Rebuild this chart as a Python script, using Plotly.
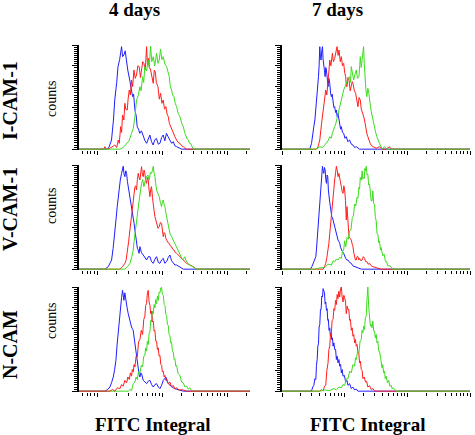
import plotly.graph_objects as go

# ---- data: (log10 FITC intensity, counts) ----
ICAM4_BLUE = [(0.14,0),(0.18,4),(0.22,22),(0.25,70),(0.27,118),(0.30,160),(0.32,198),(0.345,215),(0.36,238),(0.375,246),(0.39,222),(0.41,226),(0.43,236),(0.45,210),(0.47,190),(0.50,166),(0.52,150),(0.545,126),(0.56,132),(0.58,94),(0.60,80),(0.615,54),(0.635,48),(0.655,38),(0.68,44),(0.71,30),(0.735,20),(0.76,14),(0.785,26),(0.81,34),(0.835,18),(0.86,10),(0.885,22),(0.91,26),(0.94,12),(0.965,14),(0.99,28),(1.015,34),(1.04,20),(1.065,38),(1.09,30),(1.12,22),(1.145,14),(1.17,18),(1.195,8),(1.22,6),(1.26,3),(1.30,0)]
ICAM4_RED = [(0.10,0),(0.118,6),(0.14,0),(0.195,2),(0.24,6),(0.272,10),(0.30,4),(0.324,22),(0.34,14),(0.36,54),(0.375,40),(0.39,82),(0.41,70),(0.425,110),(0.44,96),(0.462,94),(0.475,120),(0.493,142),(0.51,130),(0.528,166),(0.545,150),(0.564,190),(0.585,170),(0.605,178),(0.625,200),(0.646,198),(0.665,172),(0.682,186),(0.70,210),(0.718,206),(0.74,190),(0.759,246),(0.775,200),(0.79,218),(0.805,196),(0.821,190),(0.84,170),(0.862,158),(0.878,190),(0.893,186),(0.91,160),(0.934,150),(0.955,120),(0.975,134),(0.995,110),(1.016,118),(1.035,96),(1.057,102),(1.075,84),(1.093,78),(1.11,62),(1.129,54),(1.15,44),(1.17,38),(1.195,30),(1.221,22),(1.245,16),(1.272,14),(1.30,8),(1.324,6),(1.365,0)]
ICAM4_GREEN = [(0.349,0),(0.40,4),(0.452,14),(0.49,20),(0.528,38),(0.555,50),(0.58,78),(0.595,96),(0.605,118),(0.63,128),(0.657,150),(0.675,140),(0.698,174),(0.715,160),(0.733,198),(0.76,188),(0.785,214),(0.80,196),(0.821,247),(0.84,210),(0.862,222),(0.885,200),(0.913,230),(0.935,206),(0.954,214),(0.974,240),(0.995,215),(1.016,222),(1.04,205),(1.067,198),(1.09,180),(1.108,174),(1.125,150),(1.144,142),(1.16,130),(1.18,126),(1.20,110),(1.221,102),(1.245,86),(1.272,78),(1.30,62),(1.324,54),(1.345,40),(1.365,30),(1.385,24),(1.401,22),(1.42,14),(1.436,14),(1.455,6),(1.477,0)]

ICAM7_BLUE = [(0.444,0),(0.471,14),(0.49,30),(0.508,54),(0.525,70),(0.54,94),(0.55,110),(0.561,126),(0.572,150),(0.582,174),(0.592,200),(0.603,246),(0.614,220),(0.624,214),(0.635,236),(0.646,246),(0.656,215),(0.667,206),(0.678,188),(0.688,174),(0.699,196),(0.709,190),(0.722,165),(0.735,150),(0.748,170),(0.762,158),(0.775,135),(0.788,126),(0.80,132),(0.815,118),(0.828,100),(0.841,102),(0.855,88),(0.868,94),(0.88,78),(0.894,86),(0.908,70),(0.921,62),(0.935,48),(0.947,54),(0.965,40),(0.984,38),(1.005,26),(1.026,30),(1.05,18),(1.079,22),(1.105,12),(1.132,10),(1.16,4),(1.185,6),(1.238,0)]
ICAM7_RED = [(0.55,0),(0.575,6),(0.603,22),(0.63,60),(0.656,94),(0.675,110),(0.698,142),(0.715,130),(0.735,158),(0.75,190),(0.762,214),(0.78,200),(0.804,230),(0.82,210),(0.841,218),(0.86,236),(0.878,246),(0.895,225),(0.91,238),(0.93,210),(0.947,222),(0.965,200),(0.984,206),(1.0,185),(1.016,174),(1.027,150),(1.037,150),(1.052,172),(1.069,166),(1.088,140),(1.106,150),(1.12,162),(1.132,158),(1.155,140),(1.175,134),(1.195,112),(1.212,102),(1.23,124),(1.249,118),(1.265,96),(1.28,86),(1.30,80),(1.317,70),(1.33,56),(1.344,46),(1.357,36),(1.37,30),(1.39,18),(1.407,14),(1.43,8),(1.45,6),(1.503,2),(1.556,6),(1.60,0),(1.661,0),(1.714,6),(1.741,0)]
ICAM7_GREEN = [(0.524,0),(0.56,2),(0.603,6),(0.65,4),(0.709,14),(0.735,20),(0.762,30),(0.785,26),(0.804,38),(0.822,44),(0.841,54),(0.86,62),(0.878,74),(0.895,86),(0.91,94),(0.93,106),(0.947,118),(0.965,130),(0.984,142),(1.005,150),(1.026,158),(1.05,168),(1.079,174),(1.093,160),(1.106,198),(1.125,180),(1.143,166),(1.165,180),(1.185,190),(1.205,170),(1.228,174),(1.24,200),(1.249,222),(1.265,196),(1.28,214),(1.29,226),(1.302,246),(1.313,205),(1.323,174),(1.34,140),(1.354,126),(1.37,146),(1.386,134),(1.40,110),(1.413,102),(1.425,90),(1.439,78),(1.458,66),(1.476,54),(1.495,40),(1.513,30),(1.535,20),(1.556,14),(1.598,0),(1.635,6),(1.672,0)]

VCAM4_BLUE = [(0.118,0),(0.17,6),(0.221,22),(0.245,50),(0.272,86),(0.29,120),(0.308,150),(0.325,175),(0.339,198),(0.355,214),(0.375,230),(0.39,240),(0.40,247),(0.413,228),(0.426,222),(0.44,236),(0.452,230),(0.465,210),(0.477,198),(0.49,186),(0.503,174),(0.515,168),(0.528,158),(0.54,140),(0.554,126),(0.567,110),(0.58,94),(0.593,78),(0.605,62),(0.618,50),(0.631,46),(0.644,38),(0.657,54),(0.68,40),(0.708,34),(0.735,28),(0.759,22),(0.785,30),(0.811,30),(0.836,18),(0.862,14),(0.888,24),(0.913,30),(0.94,16),(0.965,14),(0.99,22),(1.016,26),(1.04,14),(1.067,18),(1.093,28),(1.118,34),(1.145,20),(1.17,14),(1.195,10),(1.221,10),(1.272,6),(1.324,0)]
VCAM4_RED = [(0.349,0),(0.39,6),(0.426,14),(0.445,22),(0.462,38),(0.483,66),(0.503,94),(0.515,112),(0.528,126),(0.54,150),(0.554,166),(0.567,185),(0.58,198),(0.593,200),(0.605,190),(0.618,215),(0.631,230),(0.644,220),(0.657,214),(0.67,232),(0.682,246),(0.695,226),(0.708,222),(0.72,238),(0.733,230),(0.746,212),(0.759,206),(0.772,220),(0.785,214),(0.798,190),(0.811,174),(0.823,192),(0.836,198),(0.85,172),(0.862,150),(0.875,140),(0.888,126),(0.90,118),(0.913,110),(0.935,98),(0.954,102),(0.972,112),(0.99,110),(1.003,90),(1.016,78),(1.03,88),(1.042,86),(1.055,74),(1.067,70),(1.088,64),(1.108,62),(1.125,56),(1.144,54),(1.16,48),(1.18,46),(1.20,40),(1.221,38),(1.245,34),(1.272,30),(1.30,24),(1.324,22),(1.35,16),(1.375,14),(1.40,12),(1.426,10),(1.477,6),(1.529,0)]
VCAM4_GREEN = [(0.426,0),(0.465,6),(0.503,14),(0.53,28),(0.554,46),(0.567,66),(0.58,86),(0.593,100),(0.605,118),(0.625,140),(0.646,166),(0.665,190),(0.682,206),(0.70,215),(0.718,198),(0.738,212),(0.759,222),(0.78,226),(0.80,214),(0.818,232),(0.836,230),(0.85,238),(0.862,247),(0.875,230),(0.888,222),(0.90,205),(0.913,190),(0.933,182),(0.954,174),(0.972,160),(0.99,150),(1.003,162),(1.016,166),(1.03,155),(1.042,150),(1.055,136),(1.067,126),(1.08,118),(1.093,110),(1.105,96),(1.118,86),(1.145,78),(1.17,70),(1.195,62),(1.221,54),(1.245,46),(1.272,38),(1.292,30),(1.313,22),(1.33,26),(1.349,30),(1.362,22),(1.375,18),(1.40,12),(1.426,10),(1.477,6),(1.529,0)]

VCAM7_BLUE = [(0.455,0),(0.476,6),(0.497,14),(0.518,20),(0.54,30),(0.55,48),(0.561,70),(0.572,90),(0.582,110),(0.592,140),(0.603,166),(0.614,192),(0.624,214),(0.635,232),(0.646,247),(0.656,236),(0.667,230),(0.678,244),(0.688,238),(0.699,215),(0.709,206),(0.72,226),(0.73,222),(0.74,190),(0.751,166),(0.762,160),(0.772,150),(0.783,136),(0.794,126),(0.805,124),(0.815,118),(0.828,108),(0.841,102),(0.855,92),(0.868,86),(0.88,74),(0.894,70),(0.908,66),(0.921,62),(0.935,52),(0.947,46),(0.965,42),(0.984,38),(1.0,30),(1.016,26),(1.035,22),(1.053,22),(1.08,16),(1.106,14),(1.13,8),(1.159,6),(1.212,3),(1.265,0)]
VCAM7_RED = [(0.656,0),(0.678,6),(0.698,14),(0.716,28),(0.735,46),(0.748,62),(0.762,86),(0.775,110),(0.788,134),(0.80,155),(0.815,174),(0.828,196),(0.841,214),(0.855,232),(0.868,247),(0.88,238),(0.894,222),(0.907,230),(0.921,214),(0.934,208),(0.947,198),(0.96,186),(0.974,182),(0.987,200),(1.0,190),(1.013,165),(1.026,118),(1.037,150),(1.05,110),(1.069,78),(1.088,74),(1.106,70),(1.12,60),(1.132,54),(1.145,40),(1.159,30),(1.172,22),(1.185,22),(1.198,30),(1.212,30),(1.225,22),(1.238,26),(1.26,20),(1.28,22),(1.298,30),(1.317,26),(1.335,18),(1.354,18),(1.375,12),(1.397,14),(1.423,8),(1.45,6),(1.503,3),(1.582,0)]
VCAM7_GREEN = [(0.524,0),(0.603,3),(0.683,4),(0.735,12),(0.788,10),(0.815,20),(0.841,18),(0.868,24),(0.894,22),(0.92,28),(0.947,26),(0.965,42),(0.984,46),(1.0,68),(1.018,54),(1.037,76),(1.058,72),(1.079,92),(1.1,94),(1.122,124),(1.14,128),(1.159,156),(1.178,152),(1.196,172),(1.212,170),(1.228,196),(1.238,192),(1.249,220),(1.265,214),(1.28,236),(1.29,216),(1.302,220),(1.313,218),(1.323,242),(1.334,236),(1.344,247),(1.357,226),(1.37,228),(1.383,202),(1.397,204),(1.41,170),(1.423,164),(1.437,164),(1.45,188),(1.463,158),(1.476,156),(1.49,124),(1.503,116),(1.516,86),(1.529,84),(1.543,64),(1.556,68),(1.57,46),(1.582,52),(1.608,32),(1.63,36),(1.651,18),(1.67,18),(1.688,8),(1.725,8),(1.767,0)]

NCAM4_BLUE = [(0.118,0),(0.16,4),(0.195,10),(0.22,20),(0.247,34),(0.268,52),(0.288,74),(0.305,110),(0.324,146),(0.342,176),(0.36,202),(0.375,225),(0.39,242),(0.40,230),(0.411,218),(0.425,236),(0.442,210),(0.46,200),(0.477,186),(0.49,176),(0.503,170),(0.515,162),(0.528,154),(0.54,150),(0.554,146),(0.567,130),(0.58,114),(0.593,94),(0.605,74),(0.618,60),(0.631,50),(0.644,40),(0.657,34),(0.67,44),(0.682,42),(0.695,30),(0.708,26),(0.735,22),(0.759,18),(0.785,24),(0.811,26),(0.836,16),(0.862,10),(0.888,16),(0.913,18),(0.94,10),(0.965,6),(0.99,14),(1.016,26),(1.037,30),(1.057,34),(1.075,24),(1.093,18),(1.12,14),(1.144,10),(1.17,8),(1.195,6),(1.235,4),(1.272,2),(1.324,0)]
NCAM4_RED = [(0.195,0),(0.235,4),(0.272,0),(0.31,8),(0.349,6),(0.375,16),(0.40,12),(0.425,26),(0.452,20),(0.472,34),(0.493,28),(0.51,44),(0.528,36),(0.54,52),(0.554,46),(0.567,64),(0.58,58),(0.598,84),(0.616,82),(0.636,118),(0.657,124),(0.678,146),(0.698,136),(0.716,172),(0.733,180),(0.746,206),(0.759,210),(0.772,236),(0.785,242),(0.798,214),(0.811,206),(0.823,186),(0.836,192),(0.85,166),(0.862,168),(0.875,144),(0.888,146),(0.90,120),(0.913,120),(0.926,100),(0.939,104),(0.952,84),(0.965,86),(0.978,64),(0.99,62),(1.003,46),(1.016,48),(1.03,34),(1.042,38),(1.055,26),(1.067,30),(1.093,18),(1.118,22),(1.144,10),(1.17,14),(1.195,5),(1.221,8),(1.26,2),(1.298,4),(1.375,0)]
NCAM4_GREEN = [(0.477,0),(0.503,4),(0.528,2),(0.555,18),(0.58,22),(0.598,34),(0.616,28),(0.636,46),(0.657,44),(0.678,62),(0.698,58),(0.716,84),(0.733,86),(0.746,104),(0.759,96),(0.772,120),(0.785,112),(0.798,138),(0.811,142),(0.823,170),(0.836,166),(0.85,192),(0.862,186),(0.875,208),(0.888,200),(0.90,220),(0.913,210),(0.926,228),(0.939,218),(0.952,238),(0.965,236),(0.978,248),(0.99,249),(1.003,232),(1.016,230),(1.03,208),(1.042,206),(1.055,184),(1.067,182),(1.08,160),(1.093,158),(1.105,136),(1.118,134),(1.13,116),(1.144,118),(1.157,96),(1.17,94),(1.183,76),(1.195,78),(1.208,60),(1.221,62),(1.245,42),(1.272,38),(1.298,22),(1.324,20),(1.35,10),(1.375,12),(1.40,5),(1.426,8),(1.45,2),(1.477,0)]

NCAM7_BLUE = [(0.471,0),(0.49,10),(0.508,14),(0.524,30),(0.54,28),(0.55,62),(0.561,76),(0.572,108),(0.582,114),(0.592,154),(0.603,160),(0.614,196),(0.624,196),(0.635,228),(0.646,226),(0.656,246),(0.667,238),(0.678,236),(0.688,210),(0.699,214),(0.709,194),(0.72,198),(0.73,170),(0.74,172),(0.751,146),(0.762,152),(0.772,132),(0.783,140),(0.794,124),(0.805,128),(0.815,108),(0.828,116),(0.841,100),(0.855,100),(0.868,76),(0.88,84),(0.894,68),(0.908,76),(0.921,60),(0.935,64),(0.947,44),(0.96,52),(0.974,36),(0.995,38),(1.016,22),(1.035,26),(1.053,14),(1.08,18),(1.106,6),(1.13,10),(1.159,3),(1.185,5),(1.212,0)]
NCAM7_RED = [(0.603,0),(0.63,4),(0.656,0),(0.678,12),(0.698,14),(0.716,50),(0.735,68),(0.748,100),(0.762,108),(0.775,138),(0.788,140),(0.80,170),(0.815,172),(0.828,198),(0.841,194),(0.855,218),(0.868,208),(0.88,232),(0.894,222),(0.907,240),(0.921,226),(0.934,246),(0.947,250),(0.96,226),(0.974,214),(0.987,230),(1.0,220),(1.013,216),(1.026,186),(1.04,204),(1.053,196),(1.066,196),(1.079,170),(1.092,172),(1.106,146),(1.12,152),(1.132,132),(1.145,136),(1.159,116),(1.172,124),(1.185,108),(1.198,112),(1.212,92),(1.225,92),(1.238,68),(1.251,72),(1.265,52),(1.278,50),(1.291,30),(1.312,34),(1.333,22),(1.35,24),(1.37,10),(1.397,13),(1.423,4),(1.45,6),(1.476,1),(1.529,0)]
NCAM7_GREEN = [(0.603,0),(0.68,3),(0.762,1),(0.815,6),(0.868,4),(0.907,10),(0.947,8),(0.974,16),(1.0,14),(1.026,30),(1.053,30),(1.08,48),(1.106,44),(1.132,64),(1.159,60),(1.172,80),(1.185,76),(1.207,96),(1.228,92),(1.246,120),(1.265,124),(1.278,146),(1.291,140),(1.304,156),(1.317,148),(1.33,176),(1.344,180),(1.357,222),(1.37,250),(1.383,204),(1.397,176),(1.41,156),(1.423,160),(1.437,152),(1.45,168),(1.463,144),(1.476,144),(1.49,128),(1.503,136),(1.516,116),(1.529,120),(1.543,96),(1.556,96),(1.57,72),(1.582,72),(1.595,56),(1.608,64),(1.622,44),(1.635,48),(1.648,30),(1.661,36),(1.683,20),(1.704,26),(1.72,12),(1.741,14),(1.76,5),(1.778,8),(1.82,0)]

COL_TITLES = ["4 days", "7 days"]
ROW_TITLES = ["I-CAM-1", "V-CAM-1", "N-CAM"]
Y_TITLE = "counts"
X_TITLE = "FITC Integral"

# ---- layout constants ----
W, H = 475, 435
BLUE, RED, GREEN = "#1e1eff", "#ff1e1e", "#3cdc1e"
LOG_RANGE = [[-0.28, 2.35], [0.0, 3.0]]          # per column
COUNT_RANGE = [-2, 250]
COL_PX = [(79, 250), (282, 470)]
ROW_PX = [(45, 150), (165, 270), (287, 392)]
SERIF = "Liberation Serif, Times New Roman, serif"

PANELS = [
    [[(ICAM4_BLUE, BLUE), (ICAM4_RED, RED), (ICAM4_GREEN, GREEN)],
     [(ICAM7_BLUE, BLUE), (ICAM7_RED, RED), (ICAM7_GREEN, GREEN)]],
    [[(VCAM4_BLUE, BLUE), (VCAM4_RED, RED), (VCAM4_GREEN, GREEN)],
     [(VCAM7_BLUE, BLUE), (VCAM7_RED, RED), (VCAM7_GREEN, GREEN)]],
    [[(NCAM4_BLUE, BLUE), (NCAM4_GREEN, GREEN), (NCAM4_RED, RED)],
     [(NCAM7_BLUE, BLUE), (NCAM7_RED, RED), (NCAM7_GREEN, GREEN)]],
]

fig = go.Figure()
layout = dict(width=W, height=H, margin=dict(l=0, r=0, t=0, b=0),
              paper_bgcolor="white", plot_bgcolor="white", showlegend=False)

major_x = [10.0 ** d for d in range(-1, 4)]
minor_x = [m * 10.0 ** d for d in range(-1, 4) for m in range(2, 10)]

k = 0
for r, row in enumerate(PANELS):
    for c, curves in enumerate(row):
        k += 1
        xa = "x" if k == 1 else f"x{k}"
        ya = "y" if k == 1 else f"y{k}"
        lo, hi = LOG_RANGE[c]
        for pts, col in curves:
            xs = [10 ** lo] + [10 ** p[0] for p in pts] + [10 ** hi]
            ys = [0] + [p[1] for p in pts] + [0]
            fig.add_trace(go.Scatter(x=xs, y=ys, mode="lines",
                                     line=dict(color=col, width=1),
                                     xaxis=xa, yaxis=ya, hoverinfo="skip"))
        x0, x1 = COL_PX[c]
        t0, t1 = ROW_PX[r]
        layout[f"xaxis{'' if k == 1 else k}"] = dict(
            type="log", range=[lo, hi], domain=[x0 / W, x1 / W], anchor=ya,
            showline=False, showgrid=False, zeroline=False,
            showticklabels=False, ticks="outside", ticklen=4, tickwidth=1,
            tickcolor="black", tickmode="array", tickvals=major_x,
            minor=dict(tickmode="array", tickvals=minor_x, ticks="outside",
                       ticklen=3, tickwidth=1, tickcolor="black", showgrid=False))
        layout[f"yaxis{'' if k == 1 else k}"] = dict(
            range=COUNT_RANGE, domain=[1 - t1 / H, 1 - t0 / H], anchor=xa,
            showline=True, linewidth=2, linecolor="black",
            showgrid=False, zeroline=False, showticklabels=False,
            ticks="outside", ticklen=5, tickwidth=1, tickcolor="black",
            tick0=0, dtick=50,
            minor=dict(ticks="outside", ticklen=3, tickwidth=1,
                       tickcolor="black", dtick=5, showgrid=False))

ann = []
for c, (t, xc) in enumerate(zip(COL_TITLES, [134, 337])):
    ann.append(dict(text=f"<b>{t}</b>", x=xc / W, y=1 - 10 / H, xref="paper", yref="paper",
                    showarrow=False, font=dict(family=SERIF, size=19, color="black"),
                    xanchor="center", yanchor="middle"))
for xc in [153, 368]:
    ann.append(dict(text=f"<b>{X_TITLE}</b>", x=xc / W, y=1 - 424 / H, xref="paper", yref="paper",
                    showarrow=False, font=dict(family=SERIF, size=19, color="black"),
                    xanchor="center", yanchor="middle"))
for t, yc in zip(ROW_TITLES, [101, 209, 345]):
    ann.append(dict(text=f"<b>{t}</b>", x=10 / W, y=1 - yc / H, xref="paper", yref="paper",
                    showarrow=False, textangle=-90, font=dict(family=SERIF, size=20, color="black"),
                    xanchor="center", yanchor="middle"))
for yc in [99, 206, 321]:
    ann.append(dict(text=Y_TITLE, x=51 / W, y=1 - yc / H, xref="paper", yref="paper",
                    showarrow=False, textangle=-90, font=dict(family=SERIF, size=14, color="black"),
                    xanchor="center", yanchor="middle"))
layout["annotations"] = ann

fig.update_layout(**layout)
fig.write_html("out.html", config={"displayModeBar": False, "staticPlot": True},
               post_script="document.body.style.margin='0';document.body.style.overflow='hidden';")
